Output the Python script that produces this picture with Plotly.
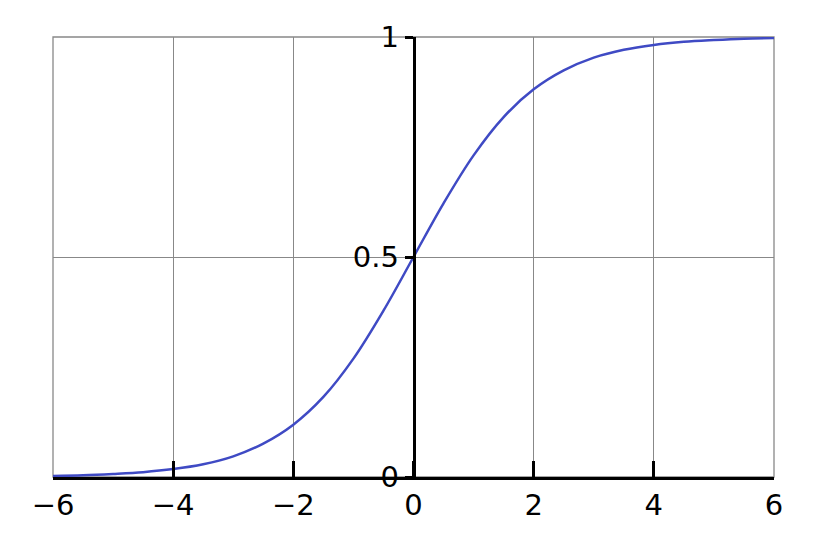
import plotly.graph_objects as go

x_vals = [-6, -5.5, -5, -4.5, -4, -3.5, -3, -2.5, -2, -1.5, -1, -0.5, 0,
          0.5, 1, 1.5, 2, 2.5, 3, 3.5, 4, 4.5, 5, 5.5, 6]
y_vals = [0.0025, 0.004, 0.007, 0.011, 0.018, 0.029, 0.047, 0.076, 0.119, 0.182, 0.269, 0.378, 0.5,
          0.622, 0.731, 0.818, 0.881, 0.924, 0.953, 0.971, 0.982, 0.989, 0.993, 0.996, 0.9975]
x_ticks = [-6, -4, -2, 0, 2, 4, 6]
x_labels = ["\u22126", "\u22124", "\u22122", "0", "2", "4", "6"]
y_ticks = [0, 0.5, 1]
y_labels = ["0", "0.5", "1"]

fig = go.Figure(go.Scatter(x=x_vals, y=y_vals, mode="lines",
                           line=dict(color="#3f4ac4", width=2.5, shape="spline")))
font = dict(family="DejaVu Sans", size=29, color="black")
fig.update_layout(
    width=828, height=552, margin=dict(l=45, r=62, t=25, b=83),
    plot_bgcolor="white", paper_bgcolor="white", showlegend=False,
    xaxis=dict(range=[-6, 6], tickvals=x_ticks, ticktext=x_labels, tickfont=font,
               showgrid=True, gridcolor="#888888", gridwidth=1.3,
               showline=True, linecolor="black", linewidth=2.5,
               ticks="inside", ticklen=16, tickwidth=2.5, tickcolor="black",
               zeroline=False, fixedrange=True),
    yaxis=dict(range=[0, 1], tickvals=y_ticks, ticktext=y_labels, tickfont=font,
               showgrid=True, gridcolor="#888888", gridwidth=1.3,
               anchor="free", position=0.5, showline=True, linecolor="black", linewidth=2.5,
               ticks="outside", ticklen=8, tickwidth=2.5, tickcolor="black",
               zeroline=False, fixedrange=True),
    shapes=[dict(type="rect", xref="paper", yref="paper", x0=0, x1=1, y0=0, y1=1,
                 line=dict(color="#888888", width=1.3), layer="below")],
)
fig.write_html("out.html")
